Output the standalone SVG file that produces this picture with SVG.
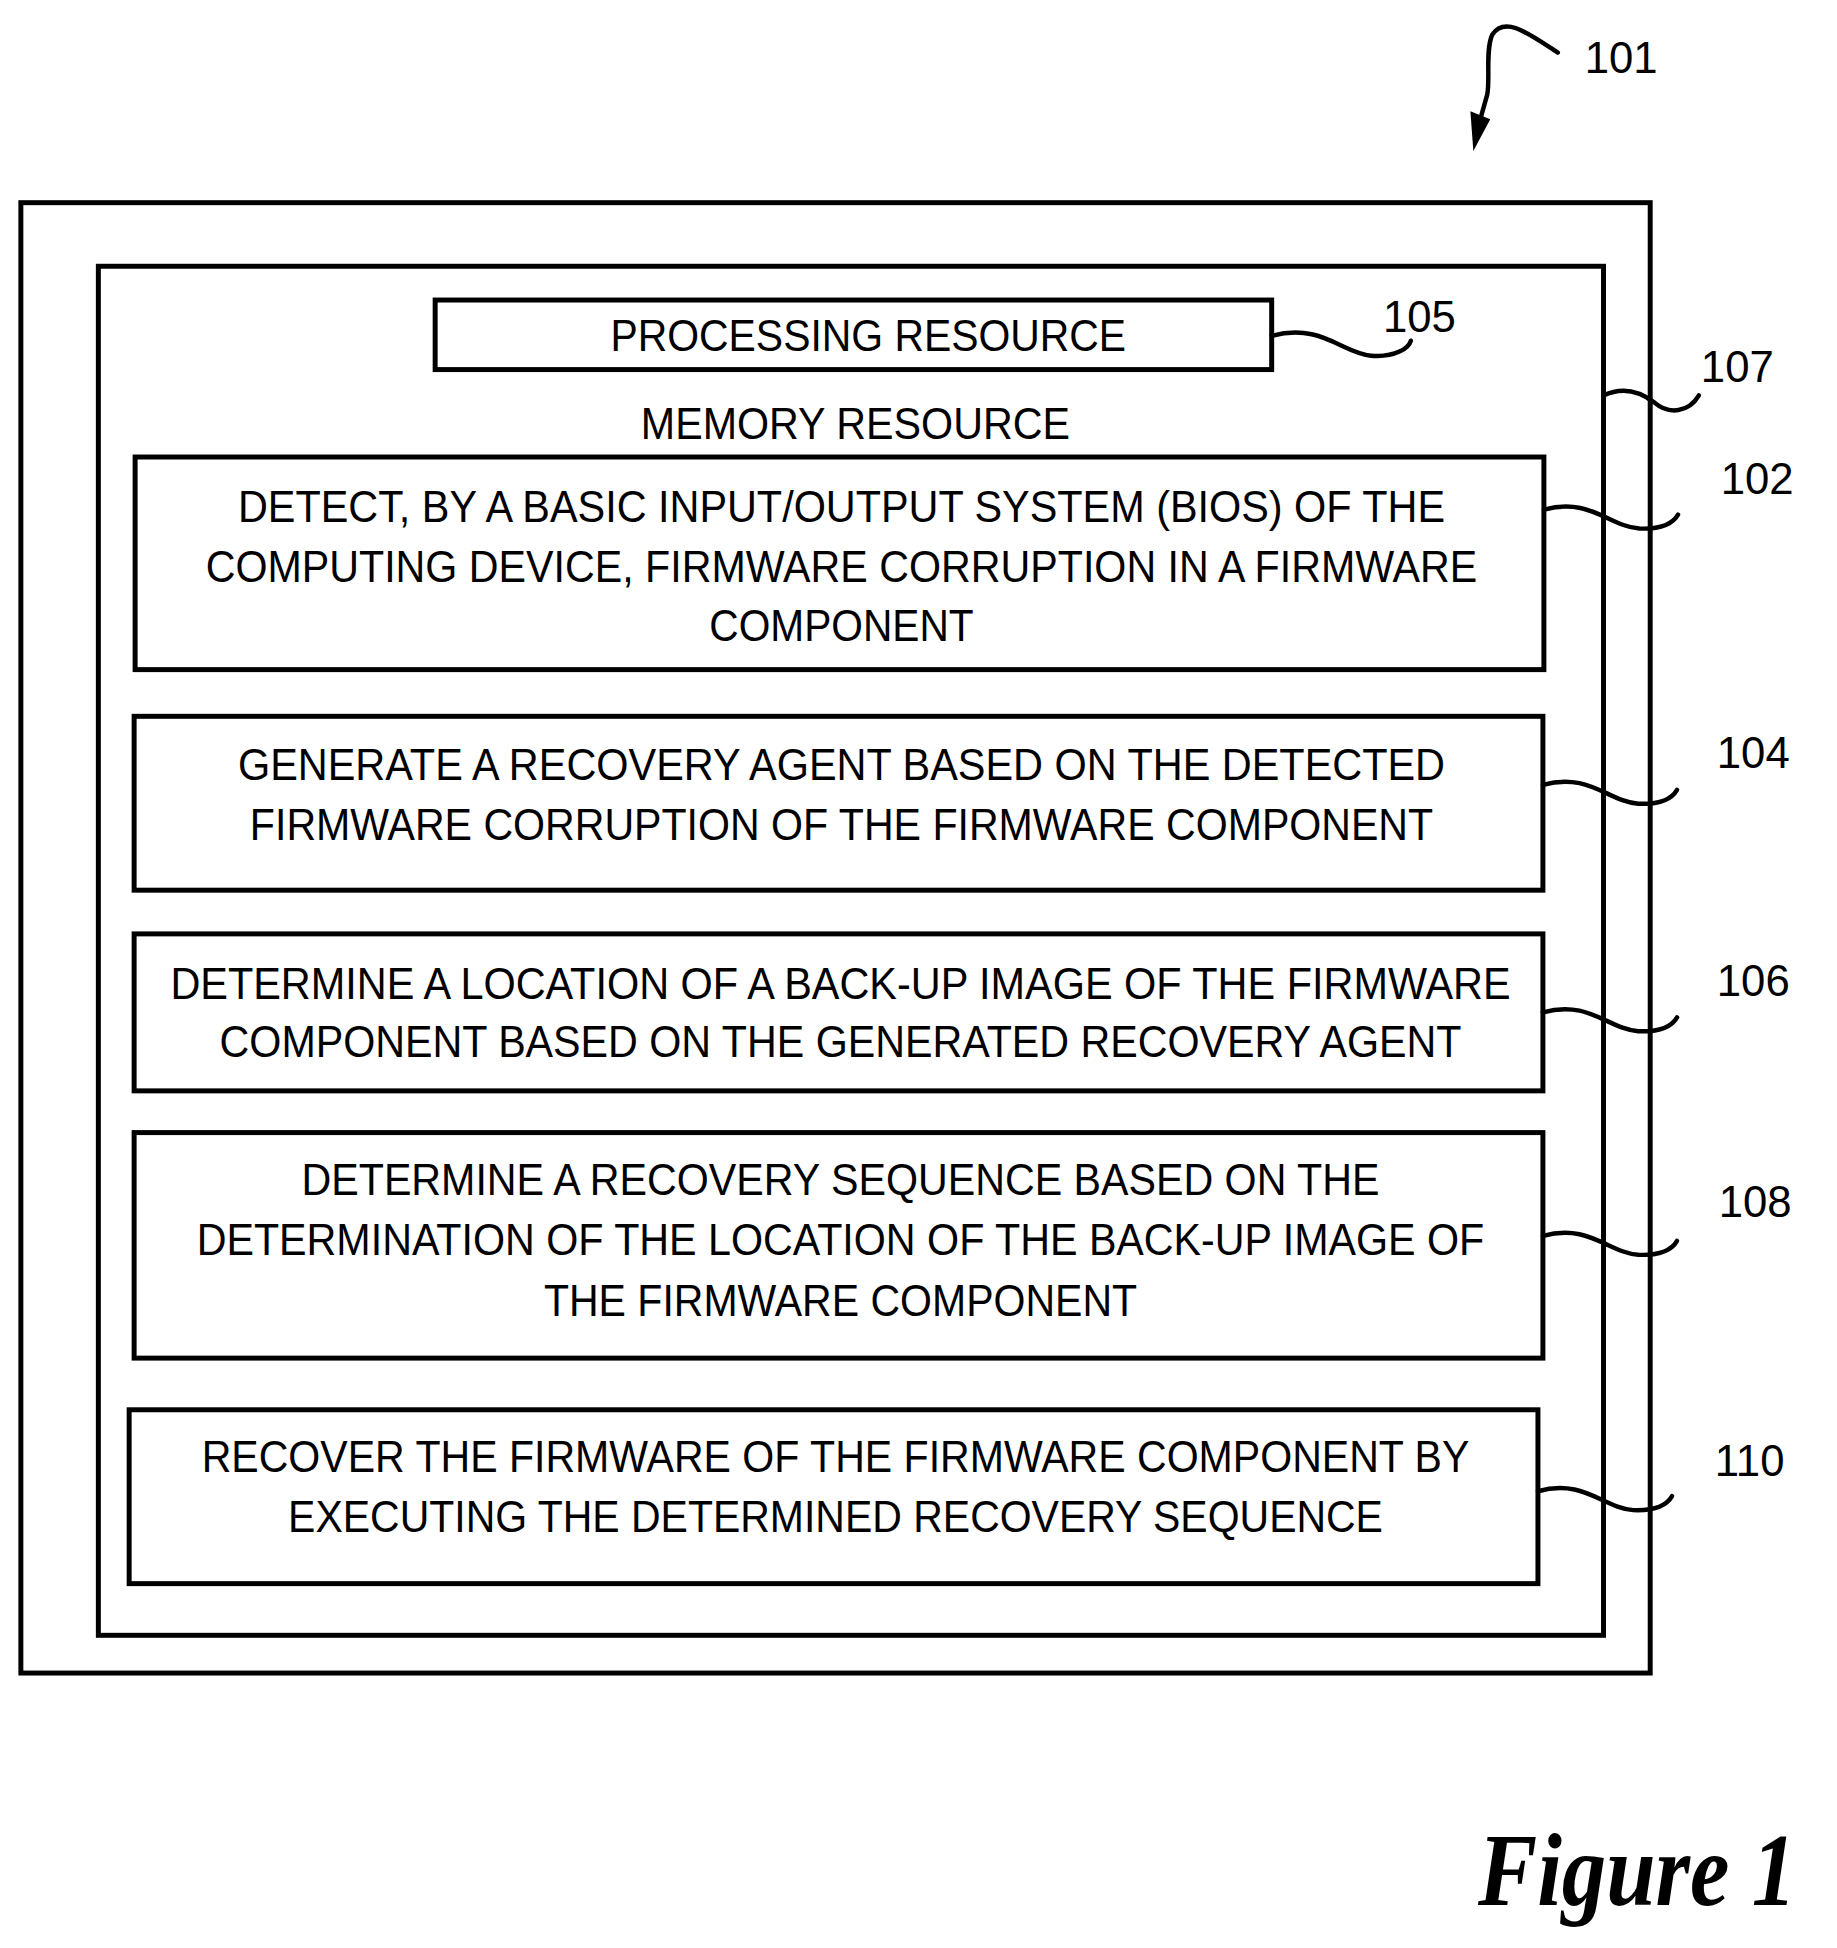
<svg xmlns="http://www.w3.org/2000/svg" width="1837" height="1948" viewBox="0 0 1837 1948">
<style>
.b{fill:none;stroke:#000;stroke-width:5}
.t{font-family:"Liberation Sans",Arial,sans-serif;font-size:44px;text-anchor:middle;fill:#000}
.n{font-family:"Liberation Sans",Arial,sans-serif;font-size:44px;fill:#000}
.l{fill:none;stroke:#000;stroke-width:4.5;stroke-linecap:round}
</style>
<rect width="1837" height="1948" fill="#fff"/>
<g transform="scale(0.9935)">
<g id="device"><rect class="b" x="21" y="204" width="1640" height="1480"/></g>
<g id="memory"><rect class="b" x="99" y="268" width="1515" height="1378"/>
<text class="t" x="861" y="442" textLength="432" lengthAdjust="spacingAndGlyphs">MEMORY RESOURCE</text></g>
<g id="processing"><rect class="b" x="438" y="302" width="842" height="70"/>
<text class="t" x="874" y="353" textLength="519" lengthAdjust="spacingAndGlyphs">PROCESSING RESOURCE</text></g>
<g id="n102"><rect class="b" x="136" y="460" width="1418" height="214"/>
<text class="t" x="847" y="525" textLength="1215" lengthAdjust="spacingAndGlyphs">DETECT, BY A BASIC INPUT/OUTPUT SYSTEM (BIOS) OF THE</text>
<text class="t" x="847" y="586" textLength="1280" lengthAdjust="spacingAndGlyphs">COMPUTING DEVICE, FIRMWARE CORRUPTION IN A FIRMWARE</text>
<text class="t" x="847" y="645" textLength="266" lengthAdjust="spacingAndGlyphs">COMPONENT</text></g>
<g id="n104"><rect class="b" x="135" y="721" width="1418" height="175"/>
<text class="t" x="847" y="785" textLength="1215" lengthAdjust="spacingAndGlyphs">GENERATE A RECOVERY AGENT BASED ON THE DETECTED</text>
<text class="t" x="847" y="845" textLength="1191" lengthAdjust="spacingAndGlyphs">FIRMWARE CORRUPTION OF THE FIRMWARE COMPONENT</text></g>
<g id="n106"><rect class="b" x="135" y="940" width="1418" height="158"/>
<text class="t" x="846" y="1006" textLength="1349" lengthAdjust="spacingAndGlyphs">DETERMINE A LOCATION OF A BACK-UP IMAGE OF THE FIRMWARE</text>
<text class="t" x="846" y="1064" textLength="1250" lengthAdjust="spacingAndGlyphs">COMPONENT BASED ON THE GENERATED RECOVERY AGENT</text></g>
<g id="n108"><rect class="b" x="135" y="1140" width="1418" height="227"/>
<text class="t" x="846" y="1203" textLength="1085" lengthAdjust="spacingAndGlyphs">DETERMINE A RECOVERY SEQUENCE BASED ON THE</text>
<text class="t" x="846" y="1263" textLength="1296" lengthAdjust="spacingAndGlyphs">DETERMINATION OF THE LOCATION OF THE BACK-UP IMAGE OF</text>
<text class="t" x="846" y="1325" textLength="597" lengthAdjust="spacingAndGlyphs">THE FIRMWARE COMPONENT</text></g>
<g id="n110"><rect class="b" x="130" y="1419" width="1418" height="175"/>
<text class="t" x="841" y="1482" textLength="1276" lengthAdjust="spacingAndGlyphs">RECOVER THE FIRMWARE OF THE FIRMWARE COMPONENT BY</text>
<text class="t" x="841" y="1542" textLength="1102" lengthAdjust="spacingAndGlyphs">EXECUTING THE DETERMINED RECOVERY SEQUENCE</text></g>
<g id="connectors">
<path class="l" d="M1568 53 C1540 35 1515 15 1502 35 C1495 50 1500 80 1497 95 L1490 120"/>
<polygon points="1480,112 1500,120 1483,152" fill="#000"/>
<path class="l" d="M1280 338 C1330 325 1350 355 1380 358 C1405 360 1418 350 1420 343"/>
<path class="l" d="M1614 398 C1635 388 1652 395 1665 405 C1680 418 1700 415 1710 398"/>
<path class="l" d="M1554 513 C1600 500 1620 530 1650 532 C1675 533 1685 525 1689 518"/>
<path class="l" d="M1553 790 C1599 777 1619 807 1649 809 C1674 810 1684 802 1688 795"/>
<path class="l" d="M1553 1019 C1599 1006 1619 1036 1649 1038 C1674 1039 1684 1031 1688 1024"/>
<path class="l" d="M1553 1244 C1599 1231 1619 1261 1649 1263 C1674 1264 1684 1256 1688 1249"/>
<path class="l" d="M1548 1501 C1594 1488 1614 1518 1644 1520 C1669 1521 1679 1513 1683 1506"/>
</g>
<g id="labels">
<text class="n" x="1595" y="73">101</text>
<text class="n" x="1392" y="334">105</text>
<text class="n" x="1712" y="384">107</text>
<text class="n" x="1732" y="497">102</text>
<text class="n" x="1728" y="773">104</text>
<text class="n" x="1728" y="1003">106</text>
<text class="n" x="1730" y="1225">108</text>
<text class="n" x="1726" y="1486">110</text>
</g>
</g>
<text x="1478" y="1905" font-family="Liberation Serif,serif" font-weight="bold" font-style="italic" font-size="104" textLength="318" lengthAdjust="spacingAndGlyphs">Figure 1</text>
</svg>
